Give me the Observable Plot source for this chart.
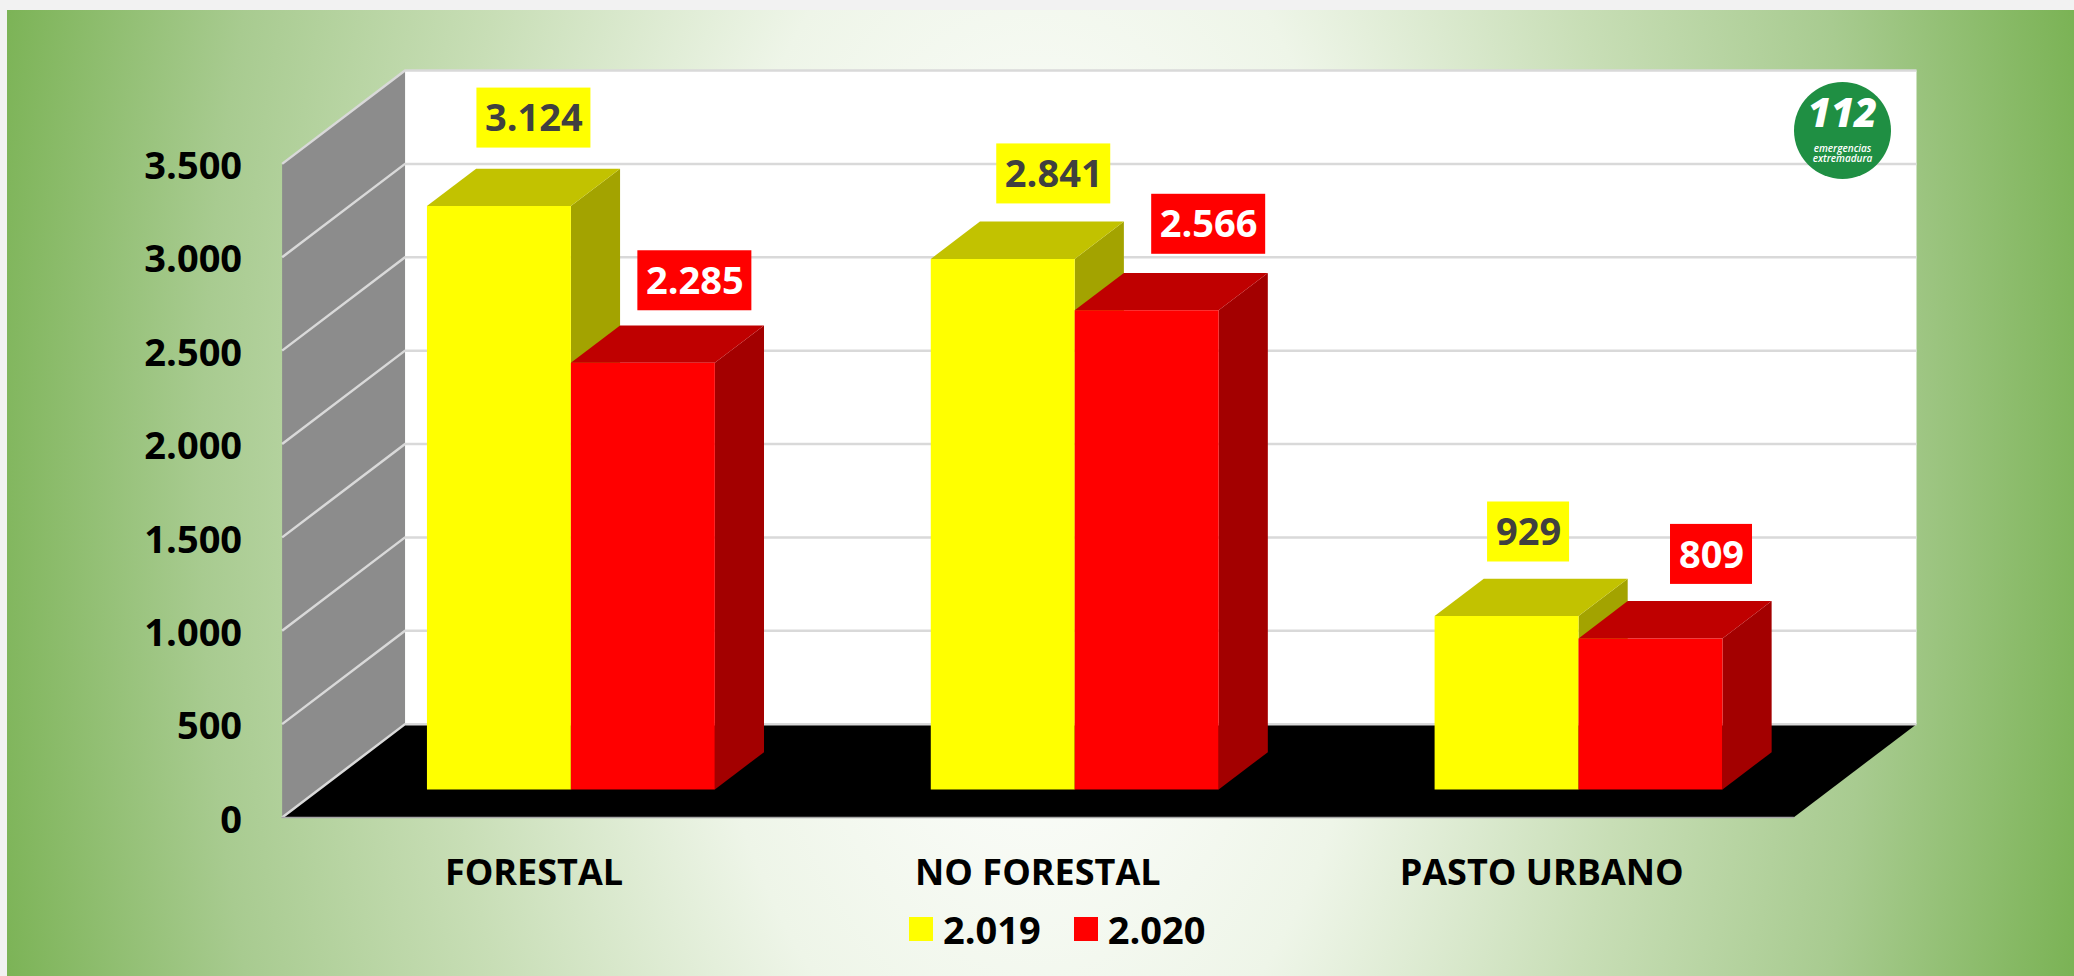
<!DOCTYPE html>
<html lang="es">
<head>
<meta charset="utf-8">
<script src="https://cdn.jsdelivr.net/npm/d3@7"></script>
<script src="https://cdn.jsdelivr.net/npm/@observablehq/plot@0.6"></script>
<style>
  html, body { margin: 0; padding: 0; background: #f2f2f2; }
  #panel {
    position: absolute; left: 7px; top: 10px; width: 2067px; height: 966px; overflow: hidden;
    background: radial-gradient(ellipse 1160px 2100px at 1030px 480px,
      #ffffff 0%, #ffffff 6%, #eef5e8 30%, #c8deb6 52%, #a8cb90 72%, #70ad47 97%);
  }
  #chart { position: absolute; left: -7px; top: -10px; width: 2074px; }
  #chart svg { display: block; }
  #legend { display: flex; align-items: center; height: 48px; padding-left: 909px;
    font: 700 38px "Open Sans", sans-serif; color: #000; }
  .swatch { width: 24px; height: 24px; margin-right: 10px; }
  .entry { display: flex; align-items: center; margin-right: 33px; }
</style>
</head>
<body>
<div id="panel"><div id="chart"></div></div>
<script>
// ---- data
const categories = ["FORESTAL", "NO FORESTAL", "PASTO URBANO"];
const seriesNames = ["2.019", "2.020"];
const values2019 = [3124, 2841, 929];
const values2020 = [2285, 2566, 809];
const yTicks = [0, 500, 1000, 1500, 2000, 2500, 3000, 3500];
// ---- colours per series: front, top, side
const yellows = ["#ffff00", "#c2c200", "#a3a300"];
const reds = ["#ff0000", "#bf0000", "#a30000"];
// ---- manual offsets of the value labels, in pixels from the top-front centre of each bar
const labelDx2019 = [35, 51, 22], labelDy2019 = [-88, -85, -84];
const labelDx2020 = [52, 62, 61], labelDy2020 = [-82, -86, -84];

// ---- oblique projection in data units: depth 1 shifts by kx categories and one grid step
const kx = 0.244, kv = 500, maxV = 3500;
const project = (u, v, d) => ({x: u + d * kx, y: v + d * kv});
const gap = 0.2143, barW = 0.2857, d0 = 0.3, d1 = 0.7;
const fmt = d3.formatLocale({decimal: ",", thousands: ".", grouping: [3], currency: ["", ""]}).format(",d");

const polys = [];
const poly = (fill, pts) => {
  const face = polys.length ? polys[polys.length - 1].face + 1 : 0;
  for (const [u, v, d] of pts) polys.push({face, fill, ...project(u, v, d)});
};
const nC = categories.length;

// walls and floor
const backWall = [[0,0,1],[nC,0,1],[nC,maxV,1],[0,maxV,1]];
const sideWall = [[0,0,0],[0,0,1],[0,maxV,1],[0,maxV,0]];
const floor = [[0,0,0],[nC,0,0],[nC,0,1],[0,0,1]];
const toRows = (pts, fill, face) => pts.map(([u, v, d]) => ({face, fill, ...project(u, v, d)}));
const shell = [...toRows(backWall, "#ffffff", 0), ...toRows(sideWall, "#8c8c8c", 1), ...toRows(floor, "#000000", 2)];

// grid lines run along the side wall, then along the back wall
const grid = yTicks.flatMap(v => [[0,v,0],[0,v,1],[nC,v,1]].map(([u, w, d]) => ({v, ...project(u, w, d)})));
const frontEdge = [[0,0,0],[nC,0,0]].map(([u, v, d]) => project(u, v, d));

// bars, painted from left to right
categories.forEach((c, i) => {
  [[values2019[i], yellows], [values2020[i], reds]].forEach(([val, cols], s) => {
    const a = i + gap + s * barW, b = a + barW;
    poly(cols[2], [[b,0,d0],[b,0,d1],[b,val,d1],[b,val,d0]]);
    poly(cols[1], [[a,val,d0],[b,val,d0],[b,val,d1],[a,val,d1]]);
    poly(cols[0], [[a,0,d0],[b,0,d0],[b,val,d0],[a,val,d0]]);
  });
});

// value labels
const labels = categories.flatMap((c, i) => [
  {...project(i + gap + barW / 2, values2019[i], d0), value: values2019[i], bg: yellows[0], ink: "#404040", dx: labelDx2019[i], dy: labelDy2019[i]},
  {...project(i + gap + barW * 1.5, values2020[i], d0), value: values2020[i], bg: reds[0], ink: "#ffffff", dx: labelDx2020[i], dy: labelDy2020[i]}
]);
const labelMarks = labels.flatMap(d => {
  const halfW = d.value >= 1000 ? 57 : 41;
  return [
    Plot.rect([d], {x1: "x", x2: "x", y1: "y", y2: "y", fill: "bg",
      insetLeft: -halfW, insetRight: -halfW, insetTop: -30, insetBottom: -30, dx: d.dx, dy: d.dy}),
    Plot.text([d], {x: "x", y: "y", text: r => fmt(r.value), fill: "ink", dx: d.dx, dy: d.dy + 1,
      fontSize: 38, fontWeight: 700, fontFamily: "Open Sans"})
  ];
});

// logo, anchored to the top right corner of the back wall
const corner = [project(nC, maxV, 1)];
const logoMarks = [
  Plot.dot(corner, {x: "x", y: "y", r: 48.5, fill: "#1f8f43", dx: -74, dy: 60}),
  Plot.text(corner, {x: "x", y: "y", text: () => "112", fill: "#fff", dx: -74, dy: 44, fontSize: 40, fontWeight: 800, fontStyle: "italic", fontFamily: "Open Sans"}),
  Plot.text(corner, {x: "x", y: "y", text: () => "emergencias", fill: "#fff", dx: -74, dy: 78, fontSize: 10, fontWeight: 600, fontStyle: "italic", fontFamily: "Open Sans"}),
  Plot.text(corner, {x: "x", y: "y", text: () => "extremadura", fill: "#fff", dx: -74, dy: 88.3, fontSize: 10, fontWeight: 600, fontStyle: "italic", fontFamily: "Open Sans"})
];

const chart = Plot.plot({
  width: 2074, height: 905,
  marginLeft: 281.6, marginRight: 158, marginTop: 70, marginBottom: 88,
  style: {background: "transparent", overflow: "visible"},
  x: {type: "linear", domain: [0, nC + kx]},
  y: {type: "linear", domain: [0, maxV + kv]},
  color: {type: "identity"},
  marks: [
    Plot.line(shell, {x: "x", y: "y", z: "face", fill: "fill", stroke: "none"}),
    Plot.line(grid, {x: "x", y: "y", z: "v", stroke: "#d9d9d9", strokeWidth: 2.5, strokeLinecap: "butt"}),
    Plot.line(frontEdge, {x: "x", y: "y", stroke: "#a6a6a6", strokeWidth: 1.5}),
    Plot.line(polys, {x: "x", y: "y", z: "face", fill: "fill", stroke: "none"}),
    ...labelMarks,
    ...logoMarks,
    Plot.axisY({ticks: yTicks, tickFormat: fmt, tickSize: 0, tickPadding: 40, anchor: "left", label: null, dy: 3,
      fontSize: 38, fontWeight: 700, fontFamily: "Open Sans", fill: "#000"}),
    Plot.axisX({ticks: categories.map((c, i) => i + 0.5), tickFormat: u => categories[Math.floor(u)],
      tickSize: 0, tickPadding: 42, anchor: "bottom", label: null,
      fontSize: 36, fontWeight: 700, fontFamily: "Open Sans", fill: "#000"})
  ]
});
document.getElementById("chart").appendChild(chart);

const legend = document.createElement("div");
legend.id = "legend";
seriesNames.forEach((name, i) => {
  const e = document.createElement("div"); e.className = "entry";
  const s = document.createElement("div"); s.className = "swatch";
  s.style.background = [yellows, reds][i][0];
  const t = document.createElement("span"); t.textContent = name;
  e.append(s, t); legend.appendChild(e);
});
document.getElementById("chart").appendChild(legend);
</script>
</body>
</html>
